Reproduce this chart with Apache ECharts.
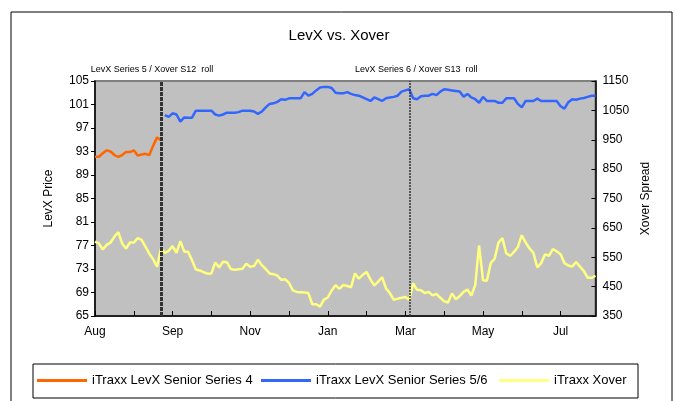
<!DOCTYPE html>
<html>
<head>
<meta charset="utf-8">
<script src="https://cdn.jsdelivr.net/npm/echarts@6/dist/echarts.min.js"></script>
<style>
html, body { margin: 0; padding: 0; background: #fff; }
#chart { width: 678px; height: 401px; }
</style>
</head>
<body>
<div id="chart"></div>
<script>
// x axis: one point per ~business day bucket, a tick every 10 points, a label every 20
var monthLabels = ['Aug', 'Sep', 'Nov', 'Jan', 'Mar', 'May', 'Jul'];
var seriesNames = ['iTraxx LevX Senior Series 4', 'iTraxx LevX Senior Series 5/6', 'iTraxx Xover'];

// LevX price, series 4 (points 0..17)
var levx4 = [92.1, 92.1, 92.7, 93.2, 93.0, 92.4, 92.1, 92.4, 92.9, 92.9, 93.2, 92.3,
	92.5, 92.6, 92.4, 94.0, 95.4, 94.9];

// LevX price, series 5/6 (from point 18)
var levx56Start = 18;
var levx56 = [99.2, 98.9, 99.5, 99.3, 98.1, 98.8, 98.75, 98.75, 99.95, 99.95, 99.95, 99.95,
	99.95, 99.3, 99.1, 99.3, 99.6, 99.6, 99.6, 99.7, 99.95, 99.95, 99.95, 99.8,
	99.4, 99.8, 100.5, 101.1, 101.2, 101.45, 101.9, 101.8, 102.05, 102.05, 102.05, 102.05,
	103.1, 102.5, 102.8, 103.4, 103.9, 104.0, 104.0, 103.8, 103.0, 102.9, 102.9, 103.1,
	102.8, 102.6, 102.5, 102.2, 101.9, 101.6, 102.2, 101.9, 101.6, 102.05, 102.2, 102.3,
	102.5, 103.2, 103.4, 103.6, 102.05, 101.9, 102.4, 102.5, 102.5, 102.8, 102.6, 103.2,
	103.6, 103.5, 103.4, 103.3, 103.2, 102.3, 102.8, 102.2, 101.9, 101.3, 102.3, 101.6,
	101.6, 101.6, 101.3, 101.3, 102.05, 102.05, 102.05, 101.1, 100.5, 101.6, 101.6, 101.6,
	102.0, 101.6, 101.6, 101.6, 101.6, 101.6, 100.7, 100.3, 101.4, 101.9, 101.8, 102.0,
	102.1, 102.3, 102.5, 102.5];

// Xover spread (bp)
var xover = [603, 597, 577, 592, 600, 620, 635, 597, 580, 600, 600, 615,
	609, 586, 562, 543, 518, 580, 565, 572, 588, 565, 605, 569,
	569, 540, 508, 505, 499, 494, 495, 532, 515, 535, 533, 510,
	507, 509, 511, 528, 518, 520, 542, 523, 510, 495, 492, 488,
	473, 475, 463, 437, 432, 431, 430, 428, 390, 390, 382, 406,
	413, 437, 455, 442, 456, 452, 448, 495, 477, 490, 500, 474,
	454, 467, 482, 444, 428, 405, 409, 412, 415, 405, 461, 439,
	438, 428, 432, 420, 425, 412, 400, 396, 427, 407, 418, 432,
	440, 420, 455, 590, 472, 470, 530, 545, 600, 615, 563, 555,
	568, 585, 625, 600, 580, 565, 515, 530, 560, 555, 578, 570,
	560, 530, 522, 518, 534, 518, 503, 480, 480, 487];

// roll dates
var rollPoints = [17, 81];
var rollNotes = ['LevX Series 5 / Xover S12  roll', 'LevX Series 6 / Xover S13  roll'];

var categories = xover.map(function(v, i) { return String(i); });
var s4 = categories.map(function(c, i) { return i < levx4.length ? levx4[i] : null; });
var s56 = categories.map(function(c, i) {
	return i >= levx56Start ? levx56[i - levx56Start] : null;
});

var font = 'Liberation Sans, Arial, sans-serif';
var chart = echarts.init(document.getElementById('chart'));

var legendAt = function(name, left) {
	return {
		data : [ name ],
		left : left,
		top : 374,
		padding : 0,
		icon : 'rect',
		itemWidth : 50,
		itemHeight : 3,
		textStyle : { fontFamily : font, fontSize : 13, color : '#000' }
	};
};

var option = {
	animation : false,
	backgroundColor : '#fff',
	title : {
		text : 'LevX vs. Xover',
		left : 'center',
		top : 23,
		textStyle : { fontFamily : font, fontSize : 15, fontWeight : 'normal', color : '#000' }
	},
	graphic : [ {
		type : 'rect',
		shape : { x : 11, y : 12, width : 661, height : 400 },
		style : { fill : null, stroke : '#000', lineWidth : 1 },
		silent : true
	}, {
		type : 'rect',
		shape : { x : 33, y : 364, width : 605, height : 34 },
		style : { fill : null, stroke : '#000', lineWidth : 1 },
		silent : true
	} ],
	legend : [ legendAt(seriesNames[0], 37), legendAt(seriesNames[1], 261), legendAt(seriesNames[2], 499) ],
	grid : {
		left : 95,
		right : 82.5,
		top : 81,
		bottom : 85,
		show : true,
		backgroundColor : '#C0C0C0',
		borderColor : '#808080',
		borderWidth : 2
	},
	xAxis : {
		type : 'category',
		data : categories,
		boundaryGap : false,
		axisLine : { lineStyle : { color : '#000', width : 1.5 } },
		axisTick : {
			inside : true,
			length : 5,
			interval : function(i) { return i % 10 === 0; },
			lineStyle : { color : '#000' }
		},
		axisLabel : {
			interval : function(i) { return i % 20 === 0; },
			formatter : function(v, i) { return monthLabels[i / 20]; },
			margin : 10,
			fontFamily : font,
			fontSize : 12,
			color : '#000'
		},
		splitLine : { show : false }
	},
	yAxis : [ {
		type : 'value',
		min : 65,
		max : 105,
		interval : 4,
		name : 'LevX Price',
		nameLocation : 'middle',
		nameRotate : 90,
		nameGap : 40,
		nameTextStyle : { fontFamily : font, fontSize : 12, color : '#000' },
		axisLine : { show : true, lineStyle : { color : '#000', width : 1.5 } },
		axisTick : { show : true, length : 4, lineStyle : { color : '#000' } },
		axisLabel : { fontFamily : font, fontSize : 12, color : '#000', margin : 6 },
		splitLine : { show : false }
	}, {
		type : 'value',
		min : 350,
		max : 1150,
		interval : 100,
		name : 'Xover Spread',
		nameLocation : 'middle',
		nameRotate : 90,
		nameGap : 43,
		nameTextStyle : { fontFamily : font, fontSize : 12, color : '#000' },
		axisLine : { show : true, lineStyle : { color : '#000', width : 1.5 } },
		axisTick : { show : true, inside : true, length : 4, lineStyle : { color : '#000' } },
		axisLabel : {
			fontFamily : font,
			fontSize : 12,
			color : '#000',
			margin : 7,
			formatter : function(v) { return String(v); }
		},
		splitLine : { show : false }
	} ],
	series : [ {
		name : seriesNames[0],
		type : 'line',
		data : s4,
		yAxisIndex : 0,
		showSymbol : false,
		color : '#FF6600',
		lineStyle : { width : 2.5 }
	}, {
		name : seriesNames[1],
		type : 'line',
		data : s56,
		yAxisIndex : 0,
		showSymbol : false,
		color : '#3366FF',
		lineStyle : { width : 2.5 },
		markLine : {
			silent : true,
			symbol : [ 'none', 'none' ],
			data : [ {
				xAxis : categories[rollPoints[0]],
				lineStyle : { color : '#333', width : 3, type : [ 4, 1 ] },
				label : { formatter : rollNotes[0], offset : [ -9, 0 ] }
			}, {
				xAxis : categories[rollPoints[1]],
				lineStyle : { color : '#333', width : 1.5, type : [ 2, 1 ] },
				label : { formatter : rollNotes[1], offset : [ 7, 0 ] }
			} ],
			label : {
				position : 'end',
				distance : 7,
				fontFamily : font,
				fontSize : 9,
				color : '#000'
			}
		}
	}, {
		name : seriesNames[2],
		type : 'line',
		data : xover,
		yAxisIndex : 1,
		showSymbol : false,
		color : '#FFFF80',
		lineStyle : { width : 2.5 }
	} ]
};
chart.setOption(option);
</script>
</body>
</html>
